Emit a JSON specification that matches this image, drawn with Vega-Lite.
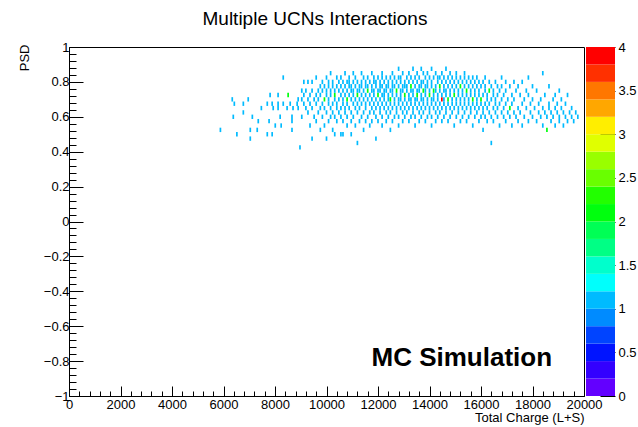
{
  "$schema": "https://vega.github.io/schema/vega-lite/v6.json",
  "background": "white",
  "padding": {"left": 17, "top": 9, "right": 2, "bottom": 2},
  "title": {"text": "Multiple UCNs Interactions", "font": "Liberation Sans", "fontSize": 19, "fontWeight": "normal", "color": "black", "anchor": "middle", "offset": 12, "dx": -12},
  "config": {"font": "Liberation Sans", "view": {"stroke": "black", "strokeWidth": 1}},
  "spacing": 2,
  "bounds": "flush",
  "resolve": {"scale": {"color": "independent"}},
  "hconcat": [
    {
      "width": 515,
      "height": 349,
      "layer": [
        {
          "data": {"values": [
{"x":5880,"y":0.525,"n":1},{"x":6340,"y":0.7,"n":1},{"x":6380,"y":0.6,"n":1},{"x":6420,"y":0.675,"n":1},{"x":6520,"y":0.5,"n":1},{"x":6770,"y":0.625,"n":1},{"x":6770,"y":0.675,"n":1},{"x":6960,"y":0.7,"n":1},{"x":7040,"y":0.525,"n":1},{"x":7040,"y":0.475,"n":1},{"x":7120,"y":0.6,"n":1},{"x":7310,"y":0.525,"n":1},{"x":7350,"y":0.575,"n":1},{"x":7470,"y":0.65,"n":1},{"x":7700,"y":0.675,"n":1},{"x":7700,"y":0.5,"n":1},{"x":7770,"y":0.575,"n":1},{"x":7810,"y":0.725,"n":1},{"x":7890,"y":0.675,"n":1},{"x":7890,"y":0.5,"n":1},{"x":7930,"y":0.65,"n":1},{"x":8010,"y":0.55,"n":1},{"x":8120,"y":0.725,"n":1},{"x":8120,"y":0.675,"n":1},{"x":8120,"y":0.65,"n":1},{"x":8200,"y":0.6,"n":1},{"x":8240,"y":0.55,"n":1},{"x":8320,"y":0.825,"n":1},{"x":8320,"y":0.675,"n":1},{"x":8470,"y":0.65,"n":1},{"x":8510,"y":0.725,"n":2},{"x":8590,"y":0.675,"n":1},{"x":8660,"y":0.6,"n":1},{"x":8660,"y":0.575,"n":1},{"x":8660,"y":0.525,"n":1},{"x":8700,"y":0.65,"n":1},{"x":8860,"y":0.675,"n":1},{"x":8900,"y":0.7,"n":1},{"x":8900,"y":0.65,"n":1},{"x":8970,"y":0.425,"n":1},
{"x":9040,"y":0.6,"n":1},{"x":9040,"y":0.7,"n":1},{"x":9040,"y":0.75,"n":1},
{"x":9120,"y":0.675,"n":1},{"x":9120,"y":0.725,"n":1},{"x":9120,"y":0.8,"n":1},
{"x":9200,"y":0.65,"n":1},{"x":9200,"y":0.75,"n":1},
{"x":9280,"y":0.625,"n":1},{"x":9280,"y":0.7,"n":1},{"x":9280,"y":0.8,"n":1},
{"x":9360,"y":0.55,"n":1},{"x":9360,"y":0.675,"n":1},{"x":9360,"y":0.725,"n":1},
{"x":9440,"y":0.475,"n":1},{"x":9440,"y":0.65,"n":1},{"x":9440,"y":0.75,"n":1},{"x":9440,"y":0.8,"n":1},
{"x":9520,"y":0.6,"n":1},{"x":9520,"y":0.7,"n":1},
{"x":9600,"y":0.575,"n":1},{"x":9600,"y":0.675,"n":1},{"x":9600,"y":0.725,"n":1},{"x":9600,"y":0.825,"n":1},
{"x":9680,"y":0.625,"n":1},{"x":9680,"y":0.7,"n":1},{"x":9680,"y":0.75,"n":1},
{"x":9760,"y":0.525,"n":1},{"x":9760,"y":0.65,"n":1},{"x":9760,"y":0.725,"n":1},{"x":9760,"y":0.775,"n":1},
{"x":9840,"y":0.6,"n":1},{"x":9840,"y":0.675,"n":1},{"x":9840,"y":0.75,"n":1},{"x":9840,"y":0.8,"n":1},
{"x":9920,"y":0.55,"n":1},{"x":9920,"y":0.65,"n":1},{"x":9920,"y":0.7,"n":2},{"x":9920,"y":0.775,"n":1},
{"x":10000,"y":0.475,"n":1},{"x":10000,"y":0.625,"n":1},{"x":10000,"y":0.725,"n":1},{"x":10000,"y":0.75,"n":1},{"x":10000,"y":0.825,"n":1},
{"x":10080,"y":0.575,"n":1},{"x":10080,"y":0.675,"n":1},{"x":10080,"y":0.7,"n":1},{"x":10080,"y":0.775,"n":1},{"x":10080,"y":0.8,"n":1},
{"x":10160,"y":0.6,"n":1},{"x":10160,"y":0.65,"n":1},{"x":10160,"y":0.725,"n":1},{"x":10160,"y":0.75,"n":1},{"x":10160,"y":0.85,"n":1},
{"x":10240,"y":0.525,"n":1},{"x":10240,"y":0.625,"n":1},{"x":10240,"y":0.675,"n":1},{"x":10240,"y":0.775,"n":1},{"x":10240,"y":0.8,"n":1},
{"x":10320,"y":0.5,"n":1},{"x":10320,"y":0.6,"n":1},{"x":10320,"y":0.7,"n":1},{"x":10320,"y":0.725,"n":2},{"x":10320,"y":0.75,"n":1},
{"x":10400,"y":0.575,"n":1},{"x":10400,"y":0.65,"n":1},{"x":10400,"y":0.675,"n":1},{"x":10400,"y":0.775,"n":1},{"x":10400,"y":0.825,"n":1},
{"x":10480,"y":0.625,"n":1},{"x":10480,"y":0.7,"n":1},{"x":10480,"y":0.75,"n":1},{"x":10480,"y":0.8,"n":1},
{"x":10560,"y":0.5,"n":1},{"x":10560,"y":0.6,"n":1},{"x":10560,"y":0.65,"n":1},{"x":10560,"y":0.725,"n":1},{"x":10560,"y":0.775,"n":1},{"x":10560,"y":0.825,"n":1},
{"x":10640,"y":0.5,"n":1},{"x":10640,"y":0.575,"n":1},{"x":10640,"y":0.675,"n":1},{"x":10640,"y":0.7,"n":1},{"x":10640,"y":0.75,"n":1},{"x":10640,"y":0.8,"n":1},
{"x":10720,"y":0.625,"n":1},{"x":10720,"y":0.65,"n":1},{"x":10720,"y":0.725,"n":1},{"x":10720,"y":0.775,"n":1},{"x":10720,"y":0.85,"n":1},
{"x":10800,"y":0.55,"n":1},{"x":10800,"y":0.6,"n":1},{"x":10800,"y":0.675,"n":1},{"x":10800,"y":0.7,"n":2},{"x":10800,"y":0.75,"n":1},{"x":10800,"y":0.8,"n":1},
{"x":10880,"y":0.65,"n":1},{"x":10880,"y":0.725,"n":1},{"x":10880,"y":0.775,"n":1},{"x":10880,"y":0.8,"n":1},{"x":10880,"y":0.825,"n":1},
{"x":10960,"y":0.5,"n":1},{"x":10960,"y":0.575,"n":1},{"x":10960,"y":0.625,"n":1},{"x":10960,"y":0.7,"n":1},{"x":10960,"y":0.75,"n":1},{"x":10960,"y":0.775,"n":1},
{"x":11040,"y":0.6,"n":1},{"x":11040,"y":0.675,"n":1},{"x":11040,"y":0.725,"n":1},{"x":11040,"y":0.75,"n":1},{"x":11040,"y":0.8,"n":1},{"x":11040,"y":0.85,"n":1},
{"x":11120,"y":0.55,"n":1},{"x":11120,"y":0.65,"n":1},{"x":11120,"y":0.7,"n":1},{"x":11120,"y":0.775,"n":1},{"x":11120,"y":0.825,"n":1},
{"x":11200,"y":0.45,"n":1},{"x":11200,"y":0.625,"n":1},{"x":11200,"y":0.675,"n":1},{"x":11200,"y":0.725,"n":2},{"x":11200,"y":0.75,"n":1},{"x":11200,"y":0.8,"n":1},
{"x":11280,"y":0.575,"n":1},{"x":11280,"y":0.65,"n":1},{"x":11280,"y":0.7,"n":1},{"x":11280,"y":0.75,"n":1},{"x":11280,"y":0.775,"n":1},
{"x":11360,"y":0.6,"n":1},{"x":11360,"y":0.675,"n":1},{"x":11360,"y":0.725,"n":1},{"x":11360,"y":0.775,"n":1},{"x":11360,"y":0.8,"n":1},{"x":11360,"y":0.85,"n":1},
{"x":11440,"y":0.525,"n":1},{"x":11440,"y":0.625,"n":1},{"x":11440,"y":0.7,"n":1},{"x":11440,"y":0.75,"n":1},{"x":11440,"y":0.825,"n":1},
{"x":11520,"y":0.575,"n":1},{"x":11520,"y":0.65,"n":1},{"x":11520,"y":0.675,"n":1},{"x":11520,"y":0.725,"n":1},{"x":11520,"y":0.775,"n":1},{"x":11520,"y":0.8,"n":1},
{"x":11600,"y":0.6,"n":1},{"x":11600,"y":0.7,"n":1},{"x":11600,"y":0.75,"n":2},{"x":11600,"y":0.775,"n":1},{"x":11600,"y":0.825,"n":1},
{"x":11680,"y":0.55,"n":1},{"x":11680,"y":0.625,"n":1},{"x":11680,"y":0.675,"n":1},{"x":11680,"y":0.725,"n":1},{"x":11680,"y":0.8,"n":1},
{"x":11760,"y":0.575,"n":1},{"x":11760,"y":0.65,"n":1},{"x":11760,"y":0.7,"n":1},{"x":11760,"y":0.75,"n":1},{"x":11760,"y":0.775,"n":1},{"x":11760,"y":0.85,"n":1},
{"x":11840,"y":0.625,"n":1},{"x":11840,"y":0.675,"n":1},{"x":11840,"y":0.725,"n":1},{"x":11840,"y":0.75,"n":1},{"x":11840,"y":0.8,"n":1},{"x":11840,"y":0.825,"n":1},
{"x":11920,"y":0.475,"n":1},{"x":11920,"y":0.6,"n":1},{"x":11920,"y":0.65,"n":1},{"x":11920,"y":0.7,"n":1},{"x":11920,"y":0.775,"n":1},{"x":11920,"y":0.8,"n":1},
{"x":12000,"y":0.575,"n":1},{"x":12000,"y":0.675,"n":1},{"x":12000,"y":0.725,"n":2},{"x":12000,"y":0.75,"n":1},{"x":12000,"y":0.825,"n":1},
{"x":12080,"y":0.625,"n":1},{"x":12080,"y":0.65,"n":1},{"x":12080,"y":0.7,"n":1},{"x":12080,"y":0.75,"n":1},{"x":12080,"y":0.775,"n":1},{"x":12080,"y":0.8,"n":1},
{"x":12160,"y":0.55,"n":1},{"x":12160,"y":0.6,"n":1},{"x":12160,"y":0.675,"n":1},{"x":12160,"y":0.725,"n":1},{"x":12160,"y":0.775,"n":1},{"x":12160,"y":0.825,"n":1},{"x":12160,"y":0.85,"n":1},
{"x":12240,"y":0.65,"n":1},{"x":12240,"y":0.7,"n":1},{"x":12240,"y":0.725,"n":1},{"x":12240,"y":0.75,"n":1},{"x":12240,"y":0.8,"n":1},
{"x":12320,"y":0.575,"n":1},{"x":12320,"y":0.625,"n":1},{"x":12320,"y":0.675,"n":1},{"x":12320,"y":0.75,"n":1},{"x":12320,"y":0.775,"n":1},{"x":12320,"y":0.825,"n":1},
{"x":12400,"y":0.6,"n":1},{"x":12400,"y":0.65,"n":1},{"x":12400,"y":0.7,"n":1},{"x":12400,"y":0.725,"n":1},{"x":12400,"y":0.775,"n":1},{"x":12400,"y":0.8,"n":1},
{"x":12480,"y":0.525,"n":1},{"x":12480,"y":0.625,"n":1},{"x":12480,"y":0.675,"n":1},{"x":12480,"y":0.7,"n":2},{"x":12480,"y":0.75,"n":1},{"x":12480,"y":0.825,"n":1},
{"x":12560,"y":0.575,"n":1},{"x":12560,"y":0.65,"n":1},{"x":12560,"y":0.725,"n":1},{"x":12560,"y":0.75,"n":1},{"x":12560,"y":0.775,"n":1},{"x":12560,"y":0.8,"n":1},{"x":12560,"y":0.85,"n":1},
{"x":12640,"y":0.6,"n":1},{"x":12640,"y":0.675,"n":1},{"x":12640,"y":0.7,"n":1},{"x":12640,"y":0.775,"n":1},{"x":12640,"y":0.825,"n":1},
{"x":12720,"y":0.625,"n":1},{"x":12720,"y":0.65,"n":1},{"x":12720,"y":0.725,"n":1},{"x":12720,"y":0.75,"n":2},{"x":12720,"y":0.8,"n":1},
{"x":12800,"y":0.55,"n":1},{"x":12800,"y":0.6,"n":1},{"x":12800,"y":0.675,"n":1},{"x":12800,"y":0.7,"n":1},{"x":12800,"y":0.775,"n":1},{"x":12800,"y":0.825,"n":1},{"x":12800,"y":0.875,"n":1},
{"x":12880,"y":0.65,"n":1},{"x":12880,"y":0.7,"n":1},{"x":12880,"y":0.725,"n":1},{"x":12880,"y":0.75,"n":1},{"x":12880,"y":0.8,"n":1},{"x":12880,"y":0.825,"n":1},
{"x":12960,"y":0.575,"n":1},{"x":12960,"y":0.625,"n":1},{"x":12960,"y":0.675,"n":1},{"x":12960,"y":0.75,"n":1},{"x":12960,"y":0.775,"n":1},{"x":12960,"y":0.85,"n":1},
{"x":13040,"y":0.6,"n":1},{"x":13040,"y":0.65,"n":1},{"x":13040,"y":0.7,"n":1},{"x":13040,"y":0.725,"n":2},{"x":13040,"y":0.775,"n":1},{"x":13040,"y":0.8,"n":1},
{"x":13120,"y":0.625,"n":1},{"x":13120,"y":0.675,"n":1},{"x":13120,"y":0.75,"n":1},{"x":13120,"y":0.775,"n":1},{"x":13120,"y":0.825,"n":1},
{"x":13200,"y":0.575,"n":1},{"x":13200,"y":0.65,"n":1},{"x":13200,"y":0.7,"n":1},{"x":13200,"y":0.725,"n":1},{"x":13200,"y":0.8,"n":1},{"x":13200,"y":0.85,"n":1},
{"x":13280,"y":0.6,"n":1},{"x":13280,"y":0.675,"n":1},{"x":13280,"y":0.7,"n":1},{"x":13280,"y":0.75,"n":1},{"x":13280,"y":0.775,"n":2},{"x":13280,"y":0.825,"n":1},
{"x":13360,"y":0.625,"n":1},{"x":13360,"y":0.65,"n":1},{"x":13360,"y":0.725,"n":1},{"x":13360,"y":0.75,"n":1},{"x":13360,"y":0.8,"n":1},{"x":13360,"y":0.875,"n":1},
{"x":13440,"y":0.55,"n":1},{"x":13440,"y":0.6,"n":1},{"x":13440,"y":0.675,"n":1},{"x":13440,"y":0.7,"n":1},{"x":13440,"y":0.775,"n":1},{"x":13440,"y":0.825,"n":1},
{"x":13520,"y":0.65,"n":1},{"x":13520,"y":0.7,"n":1},{"x":13520,"y":0.725,"n":2},{"x":13520,"y":0.75,"n":1},{"x":13520,"y":0.8,"n":1},{"x":13520,"y":0.85,"n":1},
{"x":13600,"y":0.575,"n":1},{"x":13600,"y":0.625,"n":1},{"x":13600,"y":0.675,"n":1},{"x":13600,"y":0.75,"n":1},{"x":13600,"y":0.775,"n":1},{"x":13600,"y":0.825,"n":1},
{"x":13680,"y":0.6,"n":1},{"x":13680,"y":0.65,"n":1},{"x":13680,"y":0.7,"n":1},{"x":13680,"y":0.725,"n":1},{"x":13680,"y":0.775,"n":1},{"x":13680,"y":0.8,"n":1},{"x":13680,"y":0.875,"n":1},
{"x":13760,"y":0.625,"n":1},{"x":13760,"y":0.675,"n":1},{"x":13760,"y":0.7,"n":1},{"x":13760,"y":0.75,"n":2},{"x":13760,"y":0.8,"n":1},{"x":13760,"y":0.85,"n":1},
{"x":13840,"y":0.575,"n":1},{"x":13840,"y":0.65,"n":1},{"x":13840,"y":0.725,"n":1},{"x":13840,"y":0.75,"n":1},{"x":13840,"y":0.775,"n":1},{"x":13840,"y":0.825,"n":1},
{"x":13920,"y":0.6,"n":1},{"x":13920,"y":0.675,"n":1},{"x":13920,"y":0.7,"n":1},{"x":13920,"y":0.775,"n":1},{"x":13920,"y":0.8,"n":1},{"x":13920,"y":0.85,"n":1},
{"x":14000,"y":0.625,"n":1},{"x":14000,"y":0.65,"n":1},{"x":14000,"y":0.725,"n":2},{"x":14000,"y":0.75,"n":1},{"x":14000,"y":0.825,"n":1},
{"x":14080,"y":0.55,"n":1},{"x":14080,"y":0.6,"n":1},{"x":14080,"y":0.675,"n":1},{"x":14080,"y":0.7,"n":1},{"x":14080,"y":0.775,"n":1},{"x":14080,"y":0.8,"n":1},{"x":14080,"y":0.875,"n":1},
{"x":14160,"y":0.65,"n":1},{"x":14160,"y":0.7,"n":1},{"x":14160,"y":0.725,"n":1},{"x":14160,"y":0.75,"n":2},{"x":14160,"y":0.825,"n":1},
{"x":14240,"y":0.575,"n":1},{"x":14240,"y":0.625,"n":1},{"x":14240,"y":0.675,"n":1},{"x":14240,"y":0.75,"n":1},{"x":14240,"y":0.775,"n":1},{"x":14240,"y":0.85,"n":1},
{"x":14320,"y":0.6,"n":1},{"x":14320,"y":0.65,"n":1},{"x":14320,"y":0.7,"n":1},{"x":14320,"y":0.725,"n":1},{"x":14320,"y":0.8,"n":1},{"x":14320,"y":0.825,"n":1},
{"x":14400,"y":0.625,"n":1},{"x":14400,"y":0.675,"n":1},{"x":14400,"y":0.75,"n":1},{"x":14400,"y":0.775,"n":2},{"x":14400,"y":0.825,"n":1},
{"x":14480,"y":0.575,"n":1},{"x":14480,"y":0.65,"n":1},{"x":14480,"y":0.7,"n":4},{"x":14480,"y":0.725,"n":1},{"x":14480,"y":0.8,"n":1},{"x":14480,"y":0.85,"n":1},
{"x":14560,"y":0.6,"n":1},{"x":14560,"y":0.675,"n":1},{"x":14560,"y":0.7,"n":1},{"x":14560,"y":0.75,"n":1},{"x":14560,"y":0.775,"n":1},{"x":14560,"y":0.825,"n":1},
{"x":14640,"y":0.625,"n":1},{"x":14640,"y":0.65,"n":1},{"x":14640,"y":0.725,"n":1},{"x":14640,"y":0.75,"n":1},{"x":14640,"y":0.8,"n":1},{"x":14640,"y":0.875,"n":1},
{"x":14720,"y":0.575,"n":1},{"x":14720,"y":0.675,"n":1},{"x":14720,"y":0.7,"n":2},{"x":14720,"y":0.775,"n":1},{"x":14720,"y":0.825,"n":1},
{"x":14800,"y":0.6,"n":1},{"x":14800,"y":0.65,"n":1},{"x":14800,"y":0.725,"n":1},{"x":14800,"y":0.75,"n":1},{"x":14800,"y":0.8,"n":1},{"x":14800,"y":0.85,"n":1},
{"x":14880,"y":0.625,"n":1},{"x":14880,"y":0.675,"n":1},{"x":14880,"y":0.7,"n":1},{"x":14880,"y":0.775,"n":1},{"x":14880,"y":0.825,"n":1},
{"x":14960,"y":0.55,"n":1},{"x":14960,"y":0.65,"n":1},{"x":14960,"y":0.725,"n":2},{"x":14960,"y":0.75,"n":1},{"x":14960,"y":0.8,"n":1},
{"x":15040,"y":0.6,"n":1},{"x":15040,"y":0.675,"n":1},{"x":15040,"y":0.7,"n":1},{"x":15040,"y":0.775,"n":1},{"x":15040,"y":0.825,"n":1},{"x":15040,"y":0.85,"n":1},
{"x":15120,"y":0.625,"n":1},{"x":15120,"y":0.65,"n":1},{"x":15120,"y":0.725,"n":1},{"x":15120,"y":0.75,"n":1},{"x":15120,"y":0.8,"n":1},
{"x":15200,"y":0.575,"n":1},{"x":15200,"y":0.675,"n":1},{"x":15200,"y":0.7,"n":1},{"x":15200,"y":0.775,"n":2},{"x":15200,"y":0.825,"n":1},
{"x":15280,"y":0.6,"n":1},{"x":15280,"y":0.65,"n":1},{"x":15280,"y":0.725,"n":1},{"x":15280,"y":0.75,"n":1},{"x":15280,"y":0.8,"n":1},
{"x":15360,"y":0.625,"n":1},{"x":15360,"y":0.675,"n":1},{"x":15360,"y":0.7,"n":1},{"x":15360,"y":0.775,"n":1},{"x":15360,"y":0.825,"n":1},{"x":15360,"y":0.85,"n":1},
{"x":15440,"y":0.575,"n":1},{"x":15440,"y":0.65,"n":1},{"x":15440,"y":0.725,"n":1},{"x":15440,"y":0.75,"n":2},{"x":15440,"y":0.8,"n":1},
{"x":15520,"y":0.6,"n":1},{"x":15520,"y":0.675,"n":1},{"x":15520,"y":0.7,"n":1},{"x":15520,"y":0.775,"n":1},{"x":15520,"y":0.825,"n":1},
{"x":15600,"y":0.625,"n":1},{"x":15600,"y":0.65,"n":1},{"x":15600,"y":0.725,"n":1},{"x":15600,"y":0.75,"n":1},{"x":15600,"y":0.8,"n":1},
{"x":15680,"y":0.55,"n":1},{"x":15680,"y":0.675,"n":1},{"x":15680,"y":0.7,"n":2},{"x":15680,"y":0.775,"n":1},{"x":15680,"y":0.825,"n":1},
{"x":15760,"y":0.6,"n":1},{"x":15760,"y":0.65,"n":1},{"x":15760,"y":0.725,"n":1},{"x":15760,"y":0.75,"n":1},{"x":15760,"y":0.8,"n":1},
{"x":15840,"y":0.625,"n":1},{"x":15840,"y":0.675,"n":1},{"x":15840,"y":0.7,"n":1},{"x":15840,"y":0.775,"n":1},{"x":15840,"y":0.825,"n":1},
{"x":15920,"y":0.575,"n":1},{"x":15920,"y":0.65,"n":1},{"x":15920,"y":0.725,"n":1},{"x":15920,"y":0.75,"n":1},{"x":15920,"y":0.8,"n":1},
{"x":16000,"y":0.6,"n":1},{"x":16000,"y":0.675,"n":1},{"x":16000,"y":0.7,"n":2},{"x":16000,"y":0.775,"n":1},
{"x":16080,"y":0.525,"n":1},{"x":16080,"y":0.625,"n":1},{"x":16080,"y":0.65,"n":1},{"x":16080,"y":0.725,"n":1},{"x":16080,"y":0.8,"n":1},
{"x":16160,"y":0.6,"n":1},{"x":16160,"y":0.675,"n":1},{"x":16160,"y":0.75,"n":1},{"x":16160,"y":0.775,"n":1},{"x":16160,"y":0.825,"n":1},
{"x":16240,"y":0.575,"n":1},{"x":16240,"y":0.65,"n":1},{"x":16240,"y":0.7,"n":1},{"x":16240,"y":0.725,"n":1},
{"x":16320,"y":0.625,"n":1},{"x":16320,"y":0.675,"n":1},{"x":16320,"y":0.75,"n":2},{"x":16320,"y":0.8,"n":1},
{"x":16400,"y":0.45,"n":1},{"x":16400,"y":0.6,"n":1},{"x":16400,"y":0.7,"n":1},{"x":16400,"y":0.775,"n":1},
{"x":16480,"y":0.575,"n":1},{"x":16480,"y":0.65,"n":1},{"x":16480,"y":0.725,"n":1},{"x":16480,"y":0.75,"n":1},
{"x":16560,"y":0.625,"n":1},{"x":16560,"y":0.675,"n":1},{"x":16560,"y":0.7,"n":1},{"x":16560,"y":0.8,"n":1},
{"x":16640,"y":0.6,"n":1},{"x":16640,"y":0.65,"n":1},{"x":16640,"y":0.725,"n":1},{"x":16640,"y":0.775,"n":1},
{"x":16720,"y":0.55,"n":1},{"x":16720,"y":0.675,"n":1},{"x":16720,"y":0.75,"n":1},
{"x":16800,"y":0.625,"n":1},{"x":16800,"y":0.7,"n":1},{"x":16800,"y":0.775,"n":1},{"x":16800,"y":0.825,"n":1},
{"x":16880,"y":0.6,"n":1},{"x":16880,"y":0.65,"n":1},{"x":16880,"y":0.725,"n":1},
{"x":16960,"y":0.575,"n":1},{"x":16960,"y":0.675,"n":1},{"x":16960,"y":0.75,"n":1},{"x":16960,"y":0.8,"n":1},
{"x":17040,"y":0.625,"n":1},{"x":17040,"y":0.7,"n":1},
{"x":17120,"y":0.6,"n":1},{"x":17120,"y":0.65,"n":2},{"x":17120,"y":0.775,"n":1},
{"x":17200,"y":0.55,"n":1},{"x":17200,"y":0.675,"n":1},{"x":17200,"y":0.725,"n":1},
{"x":17280,"y":0.625,"n":1},{"x":17280,"y":0.7,"n":1},{"x":17280,"y":0.8,"n":1},
{"x":17360,"y":0.6,"n":1},{"x":17360,"y":0.75,"n":1},
{"x":17440,"y":0.575,"n":1},{"x":17440,"y":0.65,"n":1},{"x":17440,"y":0.775,"n":1},
{"x":17520,"y":0.625,"n":1},{"x":17520,"y":0.725,"n":1},
{"x":17600,"y":0.55,"n":1},{"x":17600,"y":0.675,"n":1},{"x":17600,"y":0.8,"n":1},
{"x":17680,"y":0.6,"n":1},{"x":17680,"y":0.7,"n":1},
{"x":17760,"y":0.65,"n":1},{"x":17760,"y":0.75,"n":1},
{"x":17840,"y":0.575,"n":1},{"x":17840,"y":0.725,"n":1},{"x":17840,"y":0.825,"n":1},
{"x":17920,"y":0.625,"n":1},{"x":17920,"y":0.675,"n":1},
{"x":18000,"y":0.6,"n":1},{"x":18000,"y":0.7,"n":1},{"x":18000,"y":0.775,"n":1},
{"x":18080,"y":0.65,"n":1},
{"x":18160,"y":0.575,"n":1},{"x":18160,"y":0.75,"n":1},
{"x":18240,"y":0.625,"n":1},{"x":18240,"y":0.675,"n":1},
{"x":18320,"y":0.6,"n":1},{"x":18320,"y":0.7,"n":1},
{"x":18400,"y":0.55,"n":1},{"x":18400,"y":0.65,"n":1},{"x":18400,"y":0.85,"n":1},
{"x":18480,"y":0.625,"n":1},{"x":18480,"y":0.725,"n":1},
{"x":18560,"y":0.525,"n":2},{"x":18560,"y":0.6,"n":1},
{"x":18640,"y":0.65,"n":1},{"x":18640,"y":0.675,"n":1},{"x":18640,"y":0.775,"n":1},
{"x":18720,"y":0.575,"n":1},{"x":18720,"y":0.625,"n":1},
{"x":18800,"y":0.6,"n":1},{"x":18800,"y":0.7,"n":1},
{"x":18880,"y":0.55,"n":1},{"x":18880,"y":0.65,"n":1},{"x":18880,"y":0.725,"n":1},
{"x":18960,"y":0.625,"n":1},{"x":18960,"y":0.675,"n":1},
{"x":19040,"y":0.575,"n":1},{"x":19040,"y":0.6,"n":1},{"x":19040,"y":0.75,"n":1},
{"x":19120,"y":0.65,"n":1},{"x":19120,"y":0.7,"n":1},
{"x":19200,"y":0.55,"n":1},{"x":19200,"y":0.625,"n":1},
{"x":19280,"y":0.6,"n":1},{"x":19280,"y":0.675,"n":1},
{"x":19360,"y":0.575,"n":1},{"x":19360,"y":0.725,"n":1},
{"x":19440,"y":0.625,"n":1},
{"x":19520,"y":0.6,"n":1},{"x":19520,"y":0.65,"n":1},
{"x":19600,"y":0.575,"n":1},
{"x":19680,"y":0.625,"n":1},
{"x":19760,"y":0.6,"n":1}
          ]},
          "mark": {"type": "rect", "width": 1.7, "height": 4.4},
          "encoding": {
            "x": {
              "field": "x", "type": "quantitative",
              "scale": {"domain": [0, 20000], "nice": false, "zero": false},
              "axis": {
                "title": "Total Charge (L+S)", "titleAnchor": "end", "titleFont": "Liberation Sans", "titleFontSize": 13, "titleFontWeight": "normal", "titleColor": "black", "titlePadding": -5,
                "values": [0,400,800,1200,1600,2000,2400,2800,3200,3600,4000,4400,4800,5200,5600,6000,6400,6800,7200,7600,8000,8400,8800,9200,9600,10000,10400,10800,11200,11600,12000,12400,12800,13200,13600,14000,14400,14800,15200,15600,16000,16400,16800,17200,17600,18000,18400,18800,19200,19600,20000],
                "tickCount": 200,
                "labelExpr": "datum.value % 2000 === 0 ? format(datum.value, 'd') : ''",
                "labelFont": "Liberation Sans", "labelFontSize": 13, "labelColor": "black", "labelOverlap": false, "labelFlush": false, "labelPadding": 12,
                "domainColor": "black", "tickColor": "black", "grid": false,
                "tickSize": {"condition": {"test": "datum.value % 2000 === 0", "value": -10}, "value": -5}
              }
            },
            "y": {
              "field": "y", "type": "quantitative",
              "scale": {"domain": [-1, 1], "nice": false, "zero": false},
              "axis": {
                "title": "PSD", "titleAnchor": "end", "titleAlign": "right", "titleY": -3, "titleFont": "Liberation Sans", "titleFontSize": 13, "titleFontWeight": "normal", "titleColor": "black", "titlePadding": 12,
                "values": [-1,-0.96,-0.92,-0.88,-0.84,-0.8,-0.76,-0.72,-0.68,-0.64,-0.6,-0.56,-0.52,-0.48,-0.44,-0.4,-0.36,-0.32,-0.28,-0.24,-0.2,-0.16,-0.12,-0.08,-0.04,0,0.04,0.08,0.12,0.16,0.2,0.24,0.28,0.32,0.36,0.4,0.44,0.48,0.52,0.56,0.6,0.64,0.68,0.72,0.76,0.8,0.84,0.88,0.92,0.96,1],
                "tickCount": 200,
                "labelExpr": "abs(datum.value*5 - round(datum.value*5)) < 0.001 ? format(datum.value, '~g') : ''",
                "labelFont": "Liberation Sans", "labelFontSize": 13, "labelColor": "black", "labelOverlap": false, "labelFlush": false, "labelPadding": 14,
                "domainColor": "black", "tickColor": "black", "grid": false,
                "tickSize": {"condition": {"test": "abs(datum.value*5 - round(datum.value*5)) < 0.001", "value": -14}, "value": -7}
              }
            },
            "color": {
              "field": "n", "type": "quantitative",
              "scale": {"type": "quantize", "domain": [0, 4], "range": ["#6300ff","#3300ff","#0014ff","#0044ff","#008bff","#00bbff","#00fffc","#00ffcc","#00ff85","#00ff55","#00ff0e","#22ff00","#69ff00","#99ff00","#e0ff00","#ffee00","#ffa700","#ff7700","#ff3000","#ff0000"]},
              "legend": null
            }
          }
        },
        {
          "data": {"values": [{"label": "MC Simulation"}]},
          "mark": {"type": "text", "font": "Liberation Sans", "fontSize": 26, "fontWeight": "bold", "align": "right", "baseline": "middle", "color": "black"},
          "encoding": {
            "x": {"datum": 18760, "type": "quantitative"},
            "y": {"datum": -0.78, "type": "quantitative"},
            "text": {"field": "label"}
          }
        }
      ]
    },
    {
      "width": 29,
      "height": 349,
      "view": {"stroke": null},
      "data": {"values": [
        {"lo":0,"hi":0.2,"m":0.1},{"lo":0.2,"hi":0.4,"m":0.3},{"lo":0.4,"hi":0.6,"m":0.5},{"lo":0.6,"hi":0.8,"m":0.7},{"lo":0.8,"hi":1,"m":0.9},
        {"lo":1,"hi":1.2,"m":1.1},{"lo":1.2,"hi":1.4,"m":1.3},{"lo":1.4,"hi":1.6,"m":1.5},{"lo":1.6,"hi":1.8,"m":1.7},{"lo":1.8,"hi":2,"m":1.9},
        {"lo":2,"hi":2.2,"m":2.1},{"lo":2.2,"hi":2.4,"m":2.3},{"lo":2.4,"hi":2.6,"m":2.5},{"lo":2.6,"hi":2.8,"m":2.7},{"lo":2.8,"hi":3,"m":2.9},
        {"lo":3,"hi":3.2,"m":3.1},{"lo":3.2,"hi":3.4,"m":3.3},{"lo":3.4,"hi":3.6,"m":3.5},{"lo":3.6,"hi":3.8,"m":3.7},{"lo":3.8,"hi":4,"m":3.9}
      ]},
      "mark": {"type": "rect"},
      "encoding": {
        "y": {
          "field": "lo", "type": "quantitative",
          "scale": {"domain": [0, 4], "nice": false, "zero": false},
          "axis": {
            "orient": "right", "title": null, "values": [0,0.5,1,1.5,2,2.5,3,3.5,4], "tickCount": 50, "format": "~g",
            "labelFont": "Liberation Sans", "labelFontSize": 13, "labelColor": "black", "labelFlush": false, "labelOverlap": false,
            "domain": false, "tickColor": "black", "tickSize": -15, "labelPadding": 18, "grid": false
          }
        },
        "y2": {"field": "hi"},
        "color": {
          "field": "m", "type": "quantitative",
          "scale": {"type": "quantize", "domain": [0, 4], "range": ["#6300ff","#3300ff","#0014ff","#0044ff","#008bff","#00bbff","#00fffc","#00ffcc","#00ff85","#00ff55","#00ff0e","#22ff00","#69ff00","#99ff00","#e0ff00","#ffee00","#ffa700","#ff7700","#ff3000","#ff0000"]},
          "legend": null
        }
      }
    }
  ]
}
